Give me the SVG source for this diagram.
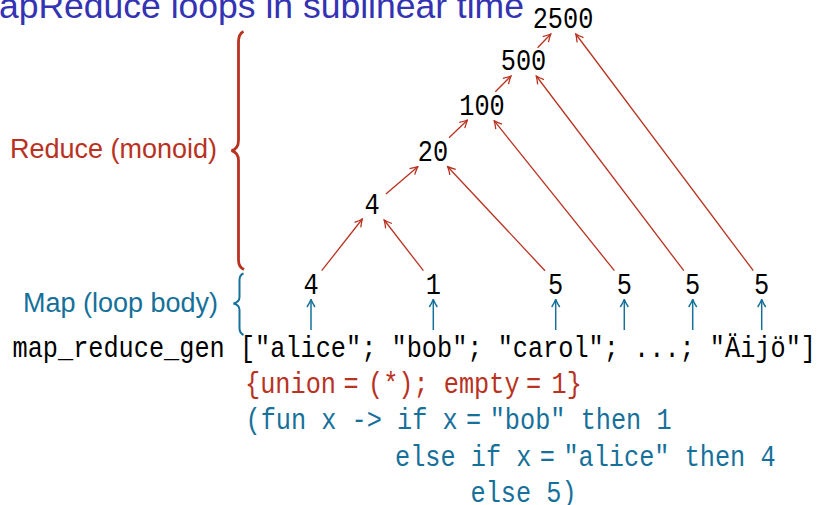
<svg xmlns="http://www.w3.org/2000/svg" width="822" height="505" viewBox="0 0 822 505">
<defs>
<style>
.tt{font-family:"Liberation Mono","Courier New",monospace;font-size:29px}
.k{fill:#000}
.r{fill:#b8321f}
.b{fill:#16709a}
.sans{font-family:"Liberation Sans",Arial,sans-serif}
.ra{stroke:#b8321f;stroke-width:1.3;fill:none;marker-end:url(#ahr)}
.ba{stroke:#16709a;stroke-width:1.5;fill:none;marker-end:url(#ahb)}
</style>
<marker id="ahr" markerUnits="userSpaceOnUse" viewBox="-9 -5 10 10" refX="0" refY="0" markerWidth="10" markerHeight="10" orient="auto">
<path d="M-7.5,-4 Q-3,-1.2 0,0 Q-3,1.2 -7.5,4" fill="none" stroke="#b8321f" stroke-width="1.3"/>
</marker>
<marker id="ahb" markerUnits="userSpaceOnUse" viewBox="-9 -5 10 10" refX="0" refY="0" markerWidth="10" markerHeight="10" orient="auto">
<path d="M-7.5,-4 Q-3,-1.2 0,0 Q-3,1.2 -7.5,4" fill="none" stroke="#16709a" stroke-width="1.5"/>
</marker>
</defs>
<rect width="822" height="505" fill="#fff"/>

<text class="sans" x="-30.6" y="18" font-size="35.5" fill="#3333b3">MapReduce loops in sublinear time</text>

<g id="reduce-label">
<path d="M243.5,31.5 Q238.5,34 238.5,42 L238.5,140 Q238.5,149 231.5,150.7 Q238.5,152.5 238.5,161 L238.5,260 Q238.5,267 244,269.5" fill="none" stroke="#b8321f" stroke-width="2.8"/>
<text class="sans" x="217" y="157.5" font-size="27" fill="#b8321f" text-anchor="end">Reduce (monoid)</text>
</g>
<g id="map-label">
<path d="M243.5,273.5 Q239.5,275 239.5,280 L239.5,297 Q239.5,302 233.5,303.5 Q239.5,305 239.5,310 L239.5,328 Q239.5,333 243.5,335" fill="none" stroke="#16709a" stroke-width="2"/>
<text class="sans" x="218" y="312" font-size="27" fill="#16709a" text-anchor="end">Map (loop body)</text>
</g>

<g id="connectors">
<line class="ra" x1="321.7" y1="270.7" x2="362.3" y2="219"/>
<line class="ra" x1="423.4" y1="270.7" x2="384.2" y2="220"/>
<line class="ra" x1="385.9" y1="194" x2="417.8" y2="166.7"/>
<line class="ra" x1="545" y1="270.7" x2="447.7" y2="166.7"/>
<line class="ra" x1="449" y1="137.7" x2="467.5" y2="120"/>
<line class="ra" x1="614.4" y1="270.7" x2="494.2" y2="120.7"/>
<line class="ra" x1="495.3" y1="91.7" x2="511" y2="76"/>
<line class="ra" x1="683.8" y1="270.7" x2="536.3" y2="76"/>
<line class="ra" x1="537.6" y1="47.7" x2="550.8" y2="34"/>
<line class="ra" x1="753.3" y1="270.7" x2="575.8" y2="34"/>
<line class="ba" x1="311" y1="330" x2="311" y2="299.5"/>
<line class="ba" x1="433.3" y1="330" x2="433.3" y2="299.5"/>
<line class="ba" x1="555.7" y1="330" x2="555.7" y2="299.5"/>
<line class="ba" x1="624.3" y1="330" x2="624.3" y2="299.5"/>
<line class="ba" x1="692.7" y1="330" x2="692.7" y2="299.5"/>
<line class="ba" x1="761.7" y1="330" x2="761.7" y2="299.5"/>
</g>

<g id="leaf-alice"><text class="tt k" x="303.4" y="293.5" textLength="15.16" lengthAdjust="spacingAndGlyphs">4</text></g>
<g id="leaf-bob"><text class="tt k" x="425.7" y="293.5" textLength="15.16" lengthAdjust="spacingAndGlyphs">1</text></g>
<g id="leaf-carol"><text class="tt k" x="548.1" y="293.5" textLength="15.16" lengthAdjust="spacingAndGlyphs">5</text></g>
<g id="leaf-4"><text class="tt k" x="616.7" y="293.5" textLength="15.16" lengthAdjust="spacingAndGlyphs">5</text></g>
<g id="leaf-5"><text class="tt k" x="685.1" y="293.5" textLength="15.16" lengthAdjust="spacingAndGlyphs">5</text></g>
<g id="leaf-aijo"><text class="tt k" x="754.1" y="293.5" textLength="15.16" lengthAdjust="spacingAndGlyphs">5</text></g>
<g id="node-4"><text class="tt k" x="364.4" y="213.5" textLength="15.16" lengthAdjust="spacingAndGlyphs">4</text></g>
<g id="node-20"><text class="tt k" x="417.8" y="161" textLength="30.3" lengthAdjust="spacingAndGlyphs">20</text></g>
<g id="node-100"><text class="tt k" x="459.3" y="114.5" textLength="45.5" lengthAdjust="spacingAndGlyphs">100</text></g>
<g id="node-500"><text class="tt k" x="500.8" y="70" textLength="45.5" lengthAdjust="spacingAndGlyphs">500</text></g>
<g id="node-2500"><text class="tt k" x="532.7" y="27.5" textLength="60.6" lengthAdjust="spacingAndGlyphs">2500</text></g>

<g id="code">
<text class="tt k" x="12.5" y="356.5" textLength="803.5" lengthAdjust="spacingAndGlyphs">map_reduce_gen ["alice"; "bob"; "carol"; ...; "Äijö"]</text>
<text class="tt r" x="245" y="392.7" textLength="91" lengthAdjust="spacingAndGlyphs">{union</text>
<text class="tt r" x="343.4" y="392.7" textLength="15.16" lengthAdjust="spacingAndGlyphs">=</text>
<text class="tt r" x="368" y="392.7" textLength="151.6" lengthAdjust="spacingAndGlyphs">(*); empty</text>
<text class="tt r" x="526" y="392.7" textLength="15.16" lengthAdjust="spacingAndGlyphs">=</text>
<text class="tt r" x="551.6" y="392.7" textLength="30.3" lengthAdjust="spacingAndGlyphs">1}</text>
<text class="tt b" x="245.5" y="429.3" textLength="212.2" lengthAdjust="spacingAndGlyphs">(fun x -&gt; if x</text>
<text class="tt b" x="466" y="429.3" textLength="15.16" lengthAdjust="spacingAndGlyphs">=</text>
<text class="tt b" x="489.7" y="429.3" textLength="181.9" lengthAdjust="spacingAndGlyphs">"bob" then 1</text>
<text class="tt b" x="395" y="466" textLength="136.4" lengthAdjust="spacingAndGlyphs">else if x</text>
<text class="tt b" x="539.8" y="466" textLength="15.16" lengthAdjust="spacingAndGlyphs">=</text>
<text class="tt b" x="563.4" y="466" textLength="212.2" lengthAdjust="spacingAndGlyphs">"alice" then 4</text>
<text class="tt b" x="470.5" y="501.7" textLength="106.1" lengthAdjust="spacingAndGlyphs">else 5)</text>
</g>
</svg>
